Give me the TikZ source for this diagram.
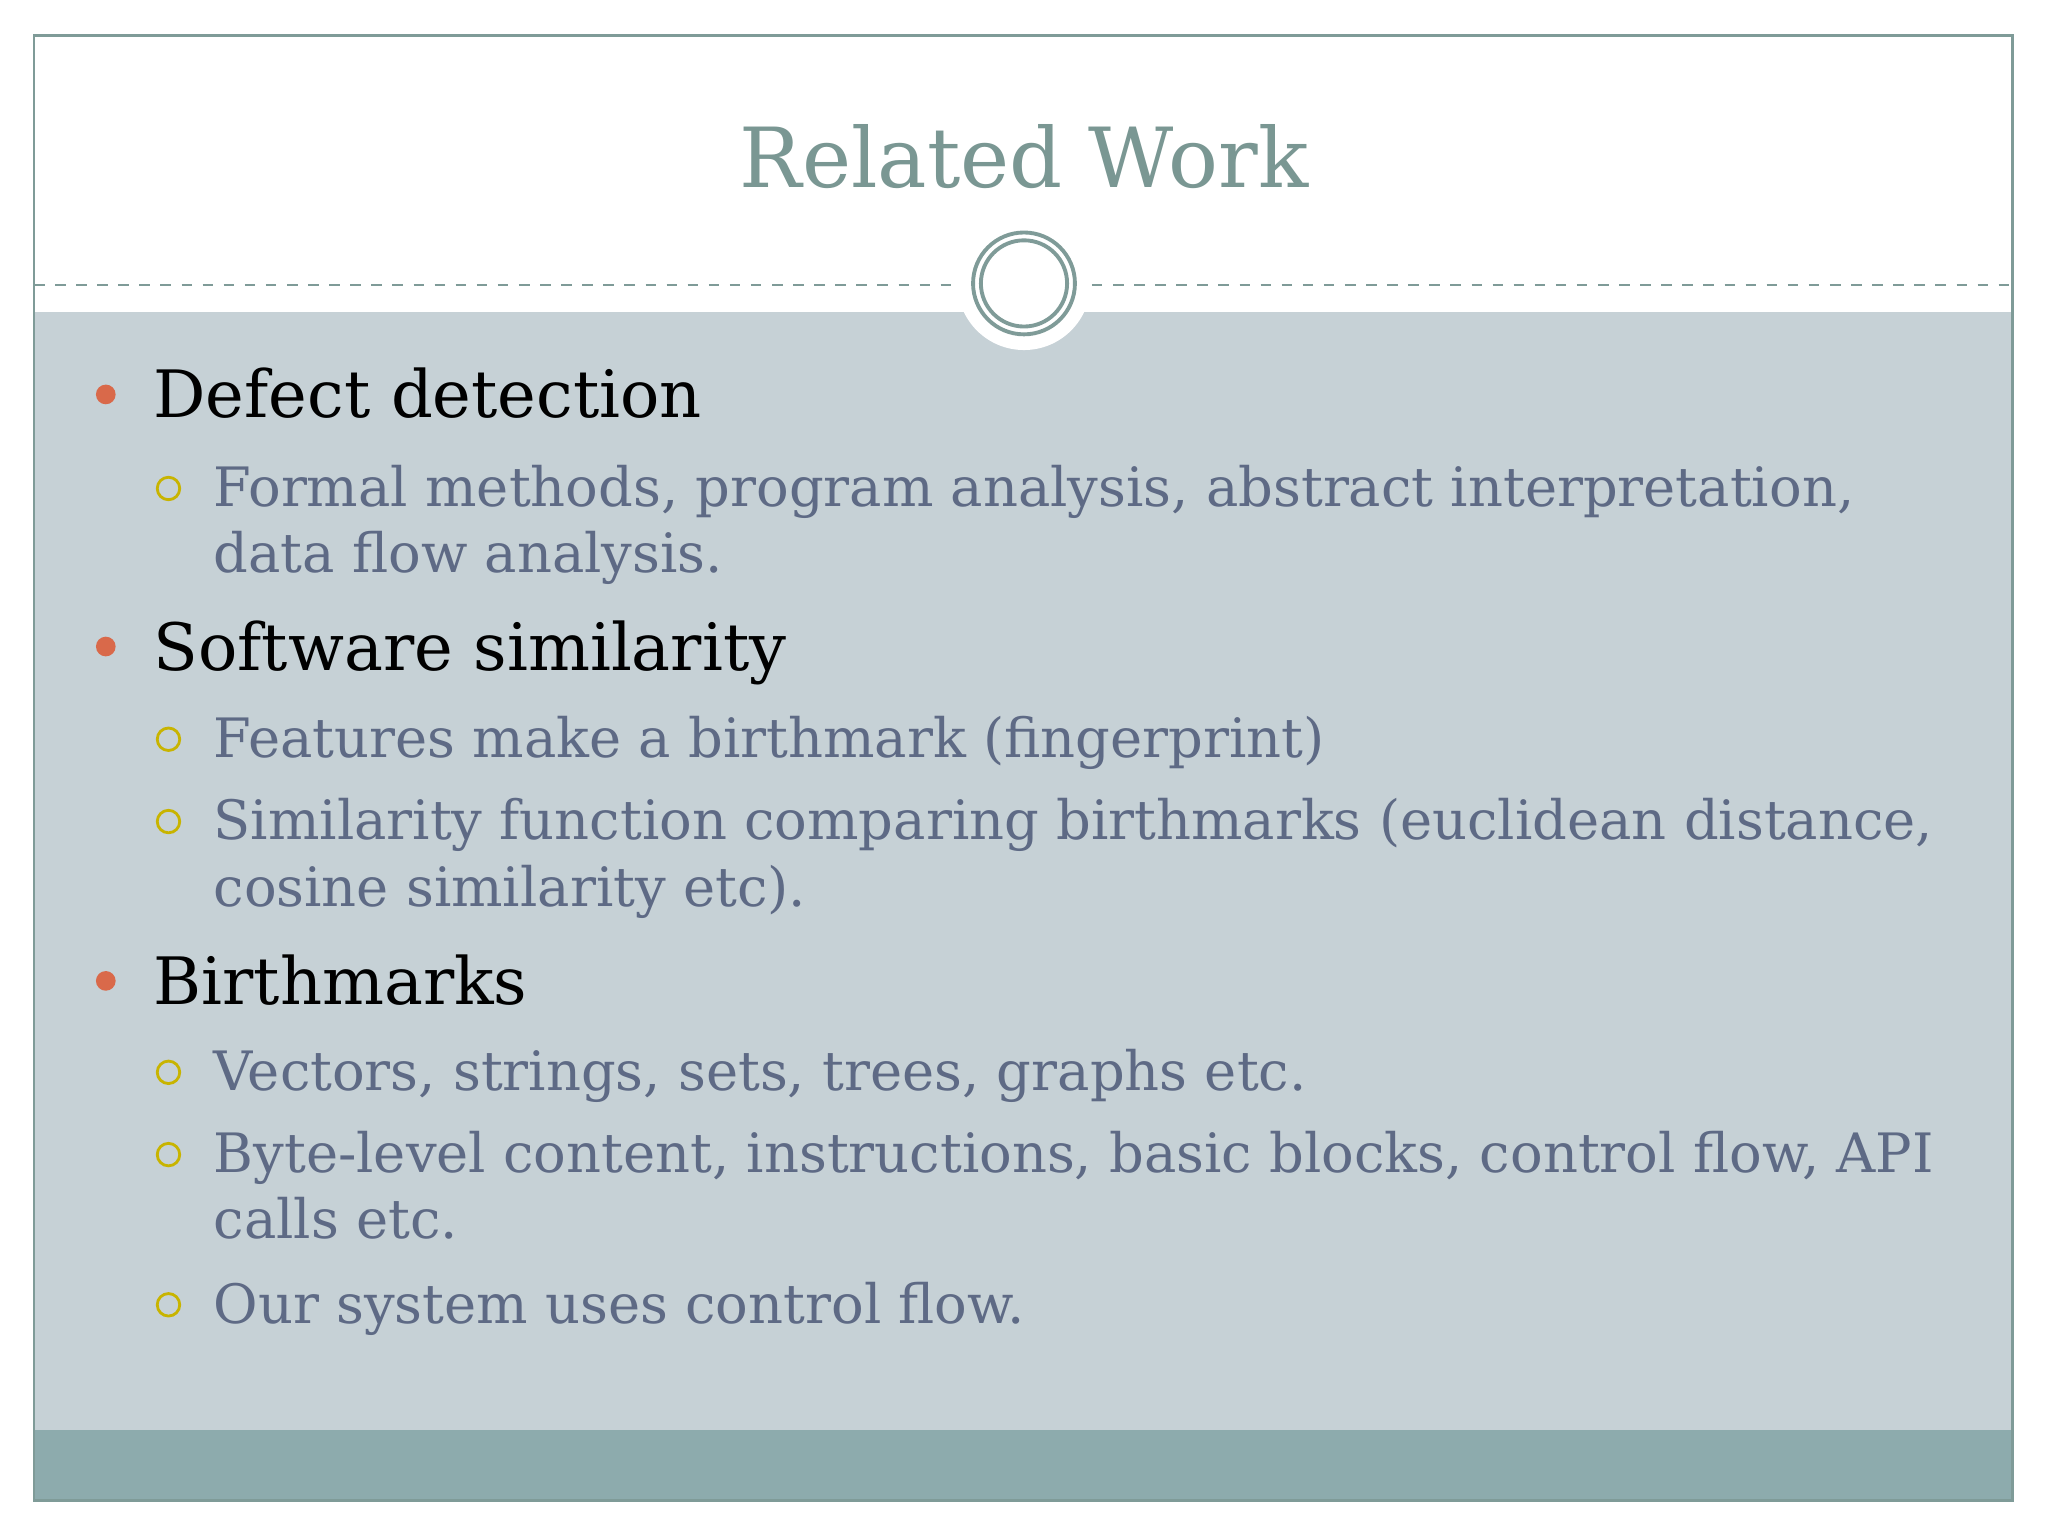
\documentclass[tikz,border=0pt]{standalone}
\usepackage{fontspec}
\setmainfont{DejaVu Serif}
\begin{document}
\begin{tikzpicture}[x=0.013061cm,y=-0.013061cm,
  lone/.style={anchor=base west,inner sep=0pt,font=\fontsize{18.6}{22}\selectfont,text=black},
  ltwo/.style={anchor=base west,inner sep=0pt,font=\fontsize{15.45}{19}\selectfont,text=txtb},
  dotb/.style={circle,fill=bulo,inner sep=0pt,minimum size=5.6pt},
  ringb/.style={circle,draw=buly,line width=0.8pt,inner sep=0pt,minimum size=6.4pt}]
\definecolor{frame}{HTML}{7F9B98}
\definecolor{body}{HTML}{C6D1D6}
\definecolor{foot}{HTML}{8DABAD}
\definecolor{ttl}{HTML}{7A9793}
\definecolor{bulo}{HTML}{D9694A}
\definecolor{buly}{HTML}{C8B400}
\definecolor{txtb}{HTML}{5E6A85}
\useasboundingbox (0,0) rectangle (1568,1176);
\fill[white] (0,0) rectangle (1568,1176);
\fill[body] (26,239) rectangle (1541,1095);
\fill[foot] (26,1095) rectangle (1541,1149);
\draw[frame,line width=0.8pt] (26,27) rectangle (1541,1149);
\draw[frame,dashed,line width=0.5pt] (26,218) -- (730,218);
\draw[frame,dashed,line width=0.5pt] (836,218) -- (1541,218);
\fill[white] (784,217) circle (51);
\draw[frame,line width=1.1pt] (784,217) circle (39);
\draw[frame,line width=1.1pt] (784,217) circle (33);
\node[inner sep=0pt,font=\fontsize{23.6}{28}\selectfont,text=ttl] (title) at (784,120) {Related Work};
\node[dotb] (b1) at (81,302) {};
\node[lone] (t1) at (117,320) {Defect detection};
\node[ringb] (r1) at (129,374) {};
\node[ltwo] (t2) at (163,388) {Formal methods, program analysis, abstract interpretation,};
\node[ltwo] (t3) at (163,438) {data flow analysis.};
\node[dotb] (b2) at (81,495) {};
\node[lone] (t4) at (117,513) {Software similarity};
\node[ringb] (r2) at (129,566) {};
\node[ltwo] (t5) at (163,580) {Features make a birthmark (fingerprint)};
\node[ringb] (r3) at (129,629) {};
\node[ltwo] (t6) at (163,643) {Similarity function comparing birthmarks (euclidean distance,};
\node[ltwo] (t7) at (163,694) {cosine similarity etc).};
\node[dotb] (b3) at (81,751) {};
\node[lone] (t8) at (117,769) {Birthmarks};
\node[ringb] (r4) at (129,821) {};
\node[ltwo] (t9) at (163,835) {Vectors, strings, sets, trees, graphs etc.};
\node[ringb] (r5) at (129,884) {};
\node[ltwo] (t10) at (163,898) {Byte-level content, instructions, basic blocks, control flow, API};
\node[ltwo] (t11) at (163,948) {calls etc.};
\node[ringb] (r6) at (129,999) {};
\node[ltwo] (t12) at (163,1013) {Our system uses control flow.};
\end{tikzpicture}
\end{document}
